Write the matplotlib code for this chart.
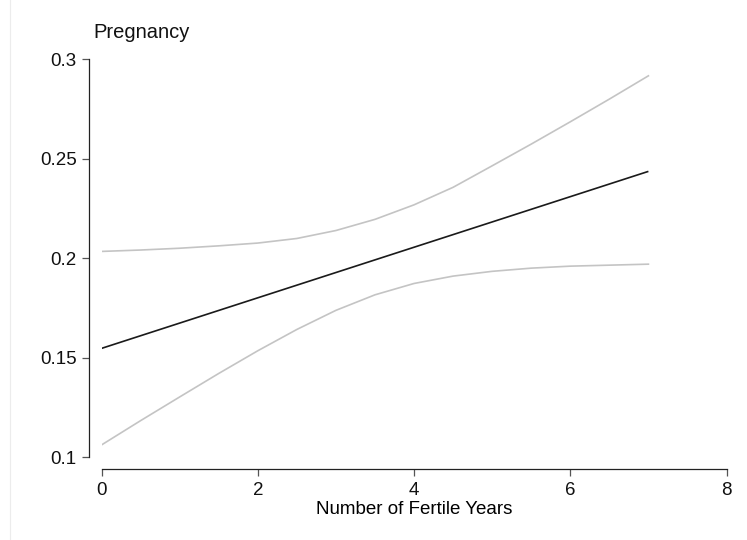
import numpy as np
import matplotlib.pyplot as plt
from matplotlib.lines import Line2D

plt.rcParams['font.family'] = ['Liberation Sans', 'DejaVu Sans']

# number of fertile years (evaluation grid)
years = [0, 0.5, 1, 1.5, 2, 2.5, 3, 3.5, 4, 4.5, 5, 5.5, 6, 6.5, 7]
# predicted probability of pregnancy (linear fit)
fit_start = 0.1548
fit_end = 0.2437
# confidence band
upper = [0.2035, 0.2042, 0.2051, 0.2063, 0.2077, 0.2100, 0.2140, 0.2196,
         0.2269, 0.2357, 0.2465, 0.2574, 0.2686, 0.2800, 0.2917]
lower = [0.1063, 0.1185, 0.1304, 0.1422, 0.1536, 0.1643, 0.1739, 0.1817,
         0.1874, 0.1911, 0.1935, 0.1951, 0.1961, 0.1966, 0.1971]

fit = np.interp(years, [years[0], years[-1]], [fit_start, fit_end])

fig = plt.figure(figsize=(7.47, 5.4), dpi=100)
ax = fig.add_axes([0.1359, 0.1528, 0.8367, 0.7374])

ax.plot(years, upper, color='#c4c4c4', lw=1.2, solid_joinstyle='round')
ax.plot(years, lower, color='#c4c4c4', lw=1.2, solid_joinstyle='round')
ax.plot(years, fit, color='#1a1a1a', lw=1.2, solid_capstyle='butt')

ax.set_xlim(0, 8)
ax.set_ylim(0.1, 0.3)
ax.set_xticks([0, 2, 4, 6, 8])
ax.set_yticks([0.1, 0.15, 0.2, 0.25, 0.3])
ax.set_yticklabels(['0.1', '0.15', '0.2', '0.25', '0.3'])

for side in ['top', 'right']:
    ax.spines[side].set_visible(False)
ax.spines['left'].set_position(('outward', 9))
ax.spines['bottom'].set_position(('outward', 8.3))
for side in ['left', 'bottom']:
    ax.spines[side].set_linewidth(0.9)
    ax.spines[side].set_color('#222222')

ax.tick_params(direction='out', length=5, width=0.9, color='#555555',
               labelsize=13.5, pad=4, labelcolor='#111111')

ax.set_xlabel('Number of Fertile Years', fontsize=13.5, labelpad=2)
fig.text(93 / 747, 1 - 32 / 540, 'Pregnancy', fontsize=14.5,
         ha='left', va='center', color='#111111')

# thin frame edge on the left
fig.add_artist(Line2D([10 / 747, 10 / 747], [0, 1], color='#ececec', lw=0.8))

fig.savefig('out.png', dpi=100)
